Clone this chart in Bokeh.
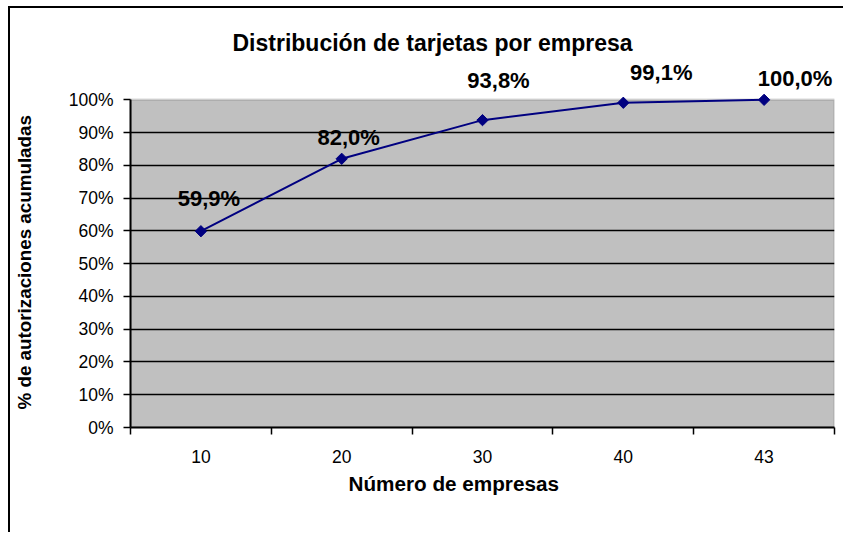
import math
from bokeh.plotting import figure
from bokeh.models import (ColumnDataSource, Range1d, FixedTicker, LabelSet, Title,
                          PrintfTickFormatter, BoxAnnotation)
from bokeh.core.properties import value
from bokeh.embed import file_html
from bokeh.resources import INLINE

# ---- data ----
x_labels = ["10", "20", "30", "40", "43"]
values = [59.9, 82.0, 93.8, 99.1, 100.0]
value_texts = ["59,9%", "82,0%", "93,8%", "99,1%", "100,0%"]
y_ticks = [0, 10, 20, 30, 40, 50, 60, 70, 80, 90, 100]

# label nudges (pixels)
label_dx = [8, 7, 16, 38, 31]
label_dy = [33, 21, 40, 30, 21]

FONT = "Liberation Sans"
xs = [i + 0.5 for i in range(len(x_labels))]
n = len(x_labels)
ymax = y_ticks[-1]

src = ColumnDataSource(dict(x=xs, y=values, t=value_texts, dx=label_dx, dy=label_dy))

p = figure(width=835, height=526, output_backend="svg", toolbar_location=None,
           x_range=Range1d(0, n), y_range=Range1d(0, ymax * 1.12),
           min_border_left=120, min_border_right=11, min_border_top=52,
           min_border_bottom=107)

p.styles = {"border-left": "2px solid black", "border-top": "2px solid black",
            "margin-left": "8px", "margin-top": "6px"}

p.background_fill_color = "white"
p.border_fill_color = "white"
p.outline_line_color = None

# plot area (gray) up to 100%
area = BoxAnnotation(left=0, right=n, bottom=0, top=ymax, fill_color="#C0C0C0",
                     fill_alpha=1, line_color="#808080", line_width=2.5, level="image")
p.add_layout(area)

# title
p.title.text = "Distribución de tarjetas por empresa"
p.title.align = "left"
p.title.offset = 102
p.title.text_font = FONT
p.title.text_font_size = "23px"
p.title.text_font_style = "bold"
p.title.text_color = "black"
p.title.standoff = 10

# grid
p.xgrid.visible = False
p.ygrid.grid_line_color = "black"
p.ygrid.grid_line_width = 1.5
p.ygrid.ticker = FixedTicker(ticks=y_ticks[1:-1])
p.ygrid.level = "underlay"

# x axis
xa = p.xaxis[0]
xa.bounds = (0, n)
xa.ticker = FixedTicker(ticks=xs, minor_ticks=list(range(n + 1)))
xa.major_label_overrides = {x: lab for x, lab in zip(xs, x_labels)}
xa.major_tick_out = 0
xa.major_tick_in = 0
xa.minor_tick_out = 7
xa.minor_tick_in = 0
xa.minor_tick_line_color = "black"
xa.minor_tick_line_width = 1.5
xa.axis_line_color = "black"
xa.axis_line_width = 2
xa.major_label_text_font = FONT
xa.major_label_text_font_size = "17.5px"
xa.major_label_text_color = "black"
xa.major_label_standoff = 15

xt = Title(text="Número de empresas", align="left", offset=218,
           text_font=FONT, text_font_size="20.7px", text_font_style="bold",
           text_color="black", standoff=9)
p.add_layout(xt, "below")

# y axis
ya = p.yaxis[0]
ya.bounds = (0, ymax)
ya.ticker = FixedTicker(ticks=y_ticks)
ya.formatter = PrintfTickFormatter(format="%d%%")
ya.major_tick_out = 7
ya.major_tick_in = 0
ya.minor_tick_out = 0
ya.minor_tick_in = 0
ya.major_tick_line_color = "black"
ya.major_tick_line_width = 1.5
ya.axis_line_color = "black"
ya.axis_line_width = 2
ya.major_label_text_font = FONT
ya.major_label_text_font_size = "17.5px"
ya.major_label_text_color = "black"
ya.major_label_standoff = 10
# trailing no-break spaces centre the visible text on the 0-100% span
ya.axis_label = "% de autorizaciones acumuladas" + "\u00a0" * 7
ya.axis_label_text_font = FONT
ya.axis_label_text_font_size = "18.8px"
ya.axis_label_text_font_style = "bold"
ya.axis_label_text_color = "black"
ya.axis_label_standoff = 31

# series
p.line("x", "y", source=src, line_color="#000080", line_width=2)
p.scatter("x", "y", source=src, marker="square", size=8, angle=math.pi / 4,
          fill_color="#000080", line_color="#000080")

labels = LabelSet(x="x", y="y", text="t", source=src, x_offset="dx", y_offset="dy",
                  text_align="center", text_baseline="middle",
                  text_font=value(FONT), text_font_size=value("22px"),
                  text_font_style="bold", text_color="black")
p.add_layout(labels)

open("out.html", "w").write(file_html(p, INLINE))
